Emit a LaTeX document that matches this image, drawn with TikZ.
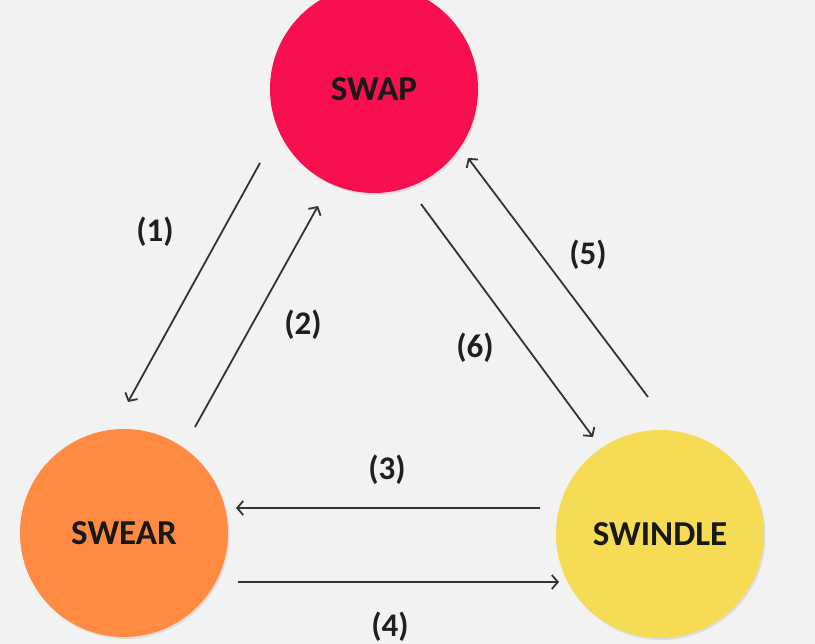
\documentclass[tikz,border=0pt]{standalone}
\usepackage{fontspec}
\setmainfont{Carlito}
\definecolor{bgColor}{HTML}{F2F2F2}
\definecolor{swapColor}{HTML}{F70F50}
\definecolor{swearColor}{HTML}{FF8A42}
\definecolor{swindleColor}{HTML}{F6DB55}
\definecolor{arrowColor}{HTML}{333333}
\usetikzlibrary{arrows.meta, calc, shadows}
\tikzset{
    defaultNode/.style = {circle, minimum size=208pt, inner sep=0pt, font=\fontsize{35}{42}\selectfont\bfseries, text=black!90, drop shadow={opacity=0.18, shadow xshift=1.5pt, shadow yshift=-2pt}},
    swapNode/.style = {defaultNode, fill=swapColor},
    swearNode/.style = {defaultNode, fill=swearColor},
    swindleNode/.style = {defaultNode, fill=swindleColor},
    labelNode/.style = {font=\fontsize{33}{40}\selectfont\bfseries, text=black!88},
    defaultPath/.style = {-{Straight Barb[length=6pt, width=14pt]}, color=arrowColor, line width=1.8pt, draw}
}

\begin{document}
\begin{tikzpicture}[x=1pt, y=-1pt]
    \fill[bgColor] (0,0) rectangle (815,644);
    \useasboundingbox (0,0) rectangle (815,644);
    \node(swap)[swapNode] at (374,89){SWAP};
    \node(swear)[swearNode] at (124,533){SWEAR};
    \node(swindle)[swindleNode] at (660,534){SWINDLE};
    % labels
    \node(labelOne)[labelNode] at (155,232){(1)};
    \node(labelTwo)[labelNode] at (303,325){(2)};
    \node(labelThree)[labelNode] at (387,470){(3)};
    \node(labelFour)[labelNode] at (390,627){(4)};
    \node(labelFive)[labelNode] at (588,255){(5)};
    \node(labelSix)[labelNode] at (475,348){(6)};
    % arrows
    \path[defaultPath] ($(swap)+(-114,74)$) to ($(swear)+(4,-131)$);
    \path[defaultPath] ($(swear)+(71,-106)$) to ($(swap)+(-56,117)$);
    \path[defaultPath] ($(swap)+(47,115)$) to ($(swindle)+(-67,-97)$);
    \path[defaultPath] ($(swindle)+(-12,-137)$) to ($(swap)+(94,69)$);
    \path[defaultPath] ($(swindle)+(-120,-26)$) to ($(swear)+(112,-25)$);
    \path[defaultPath] ($(swear)+(114,49)$) to ($(swindle)+(-101,48)$);
\end{tikzpicture}
\end{document}
